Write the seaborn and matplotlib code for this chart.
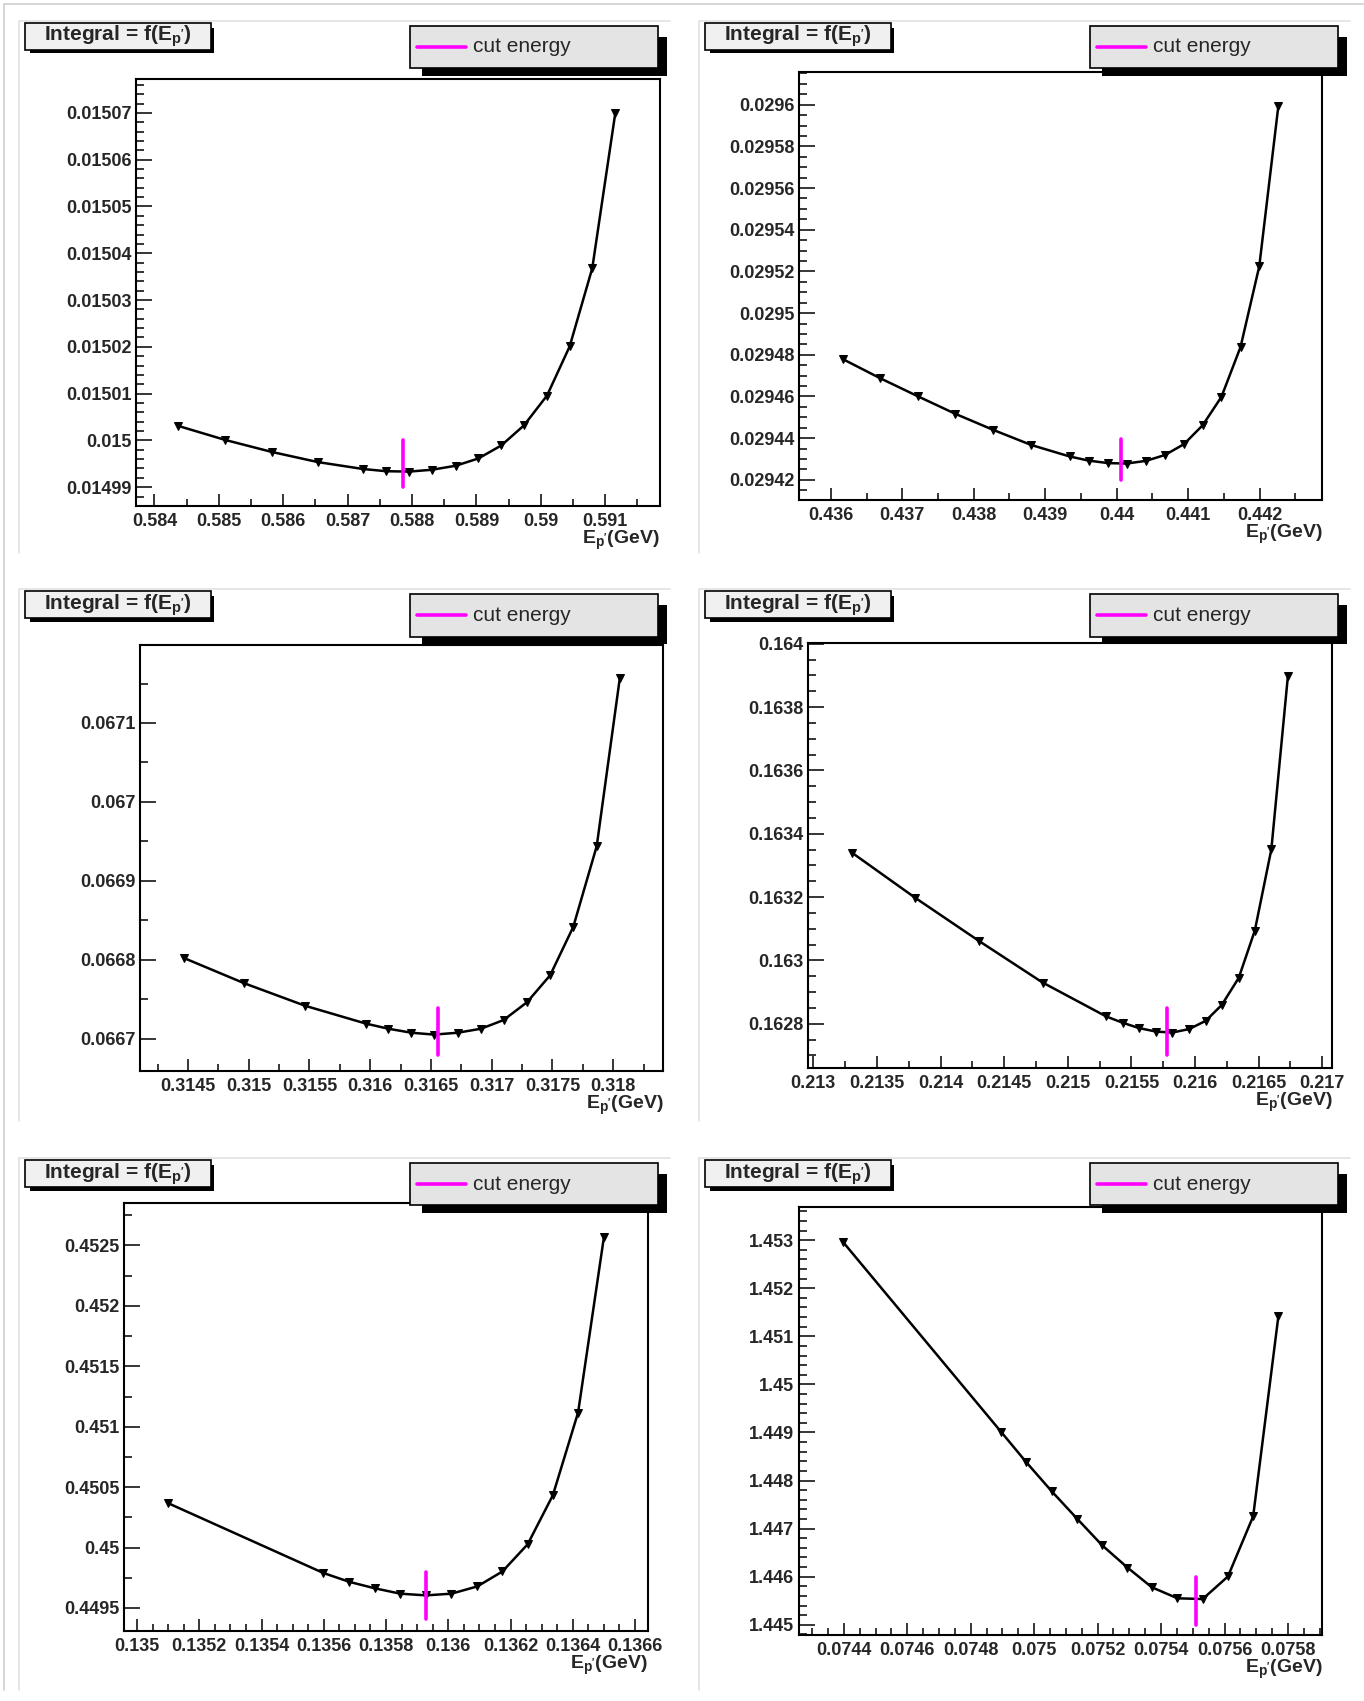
import matplotlib
matplotlib.use("Agg")
import matplotlib.pyplot as plt
import matplotlib.ticker as mtick
from matplotlib.patches import Rectangle
from matplotlib.lines import Line2D
import pandas as pd
import seaborn as sns

# ---- data: integral vs E_p' (GeV) ----
ep_1 = [0.584371, 0.585101, 0.585823, 0.586539, 0.587241, 0.587599, 0.587957, 0.588308,
        0.588679, 0.589030, 0.589388, 0.589739, 0.590097, 0.590448, 0.590799, 0.591157]
int_1 = [0.0150031, 0.0150001, 0.01499754, 0.01499537, 0.01499389, 0.01499342, 0.01499334, 0.01499373,
         0.01499459, 0.01499614, 0.01499894, 0.01500322, 0.0150096, 0.01502009, 0.01503681, 0.01507]

ep_2 = [0.436170, 0.436688, 0.437217, 0.437740, 0.438276, 0.438805, 0.439341, 0.439609, 0.439882,
        0.440138, 0.440412, 0.440674, 0.440941, 0.441203, 0.441465, 0.441732, 0.441994, 0.442262]
int_2 = [0.0294779, 0.0294688, 0.0294601, 0.0294517, 0.0294439, 0.0294367, 0.0294312, 0.0294292, 0.0294280,
         0.0294278, 0.0294291, 0.0294319, 0.0294371, 0.0294462, 0.0294598, 0.0294837, 0.0295224, 0.0295996]

ep_3 = [0.314471, 0.314965, 0.315466, 0.315967, 0.316150, 0.316340, 0.316526, 0.316719,
        0.316912, 0.317098, 0.317291, 0.317481, 0.317671, 0.317864, 0.318054]
int_3 = [0.0668022, 0.0667704, 0.0667419, 0.0667193, 0.0667129, 0.0667078, 0.0667055, 0.0667078,
         0.0667129, 0.0667239, 0.0667465, 0.0667806, 0.0668418, 0.066944, 0.0671566]

ep_4 = [0.213304, 0.213803, 0.214303, 0.214802, 0.215301, 0.215431, 0.215561, 0.215694,
        0.215821, 0.215954, 0.216084, 0.216210, 0.216344, 0.216470, 0.216600, 0.216730]
int_4 = [0.16334, 0.163197, 0.163061, 0.16293, 0.162823, 0.162803, 0.162786, 0.162775,
         0.162772, 0.162783, 0.162809, 0.162859, 0.162945, 0.163094, 0.163351, 0.163898]

ep_5 = [0.135099, 0.135598, 0.135682, 0.135763, 0.135846, 0.135928, 0.136010,
        0.136093, 0.136174, 0.136255, 0.136336, 0.136417, 0.136500]
int_5 = [0.450368, 0.44979, 0.449716, 0.449663, 0.449618, 0.449604, 0.449618,
         0.449678, 0.449802, 0.450027, 0.450433, 0.451117, 0.452568]

ep_6 = [0.0743973, 0.0748950, 0.0749745, 0.0750554, 0.0751349, 0.0752145, 0.0752940,
        0.0753708, 0.0754517, 0.0755312, 0.0756108, 0.0756903, 0.0757698]
int_6 = [1.452963, 1.449019, 1.448386, 1.447776, 1.44721, 1.446652, 1.446191,
         1.445781, 1.445551, 1.445536, 1.446005, 1.447255, 1.451415]

cut_x = [0.587862, 0.440065, 0.316561, 0.21578, 0.135929, 0.0755091]
cut_lo = [0.01499, 0.02942, 0.0666802, 0.1627, 0.449405, 1.445]
cut_hi = [0.015, 0.0294395, 0.0667391, 0.162849, 0.449796, 1.44599]

title_txt = r"Integral = f(E$_{\mathrm{p'}}$)"
xlabel_txt = r"E$_{\mathrm{p'}}$(GeV)"
legend_txt = "cut energy"

# ---- axis settings per panel ----
xlims = [(0.58371, 0.591846), (0.43555, 0.442876), (0.314106, 0.318412),
         (0.212959, 0.217079), (0.134958, 0.136642), (0.0742574, 0.0759083)]
ylims = [(0.0149859, 0.0150772), (0.0294104, 0.0296159), (0.0666595, 0.0671985),
         (0.16266, 0.1640034), (0.44931, 0.452855), (1.444792, 1.453692)]
x_major = [0.001, 0.001, 0.0005, 0.0005, 0.0002, 0.0002]
x_minor = [0.0005, 0.0005, 0.00025, 0.00025, 0.00005, 0.00005]
y_major = [0.00001, 0.00002, 0.0001, 0.0002, 0.0005, 0.001]
y_minor = [0.000002, 0.000005, 0.00005, 0.00005, 0.00025, 0.0002]

# pixel boxes (left, top, right, bottom), image coords from top-left
axes_px = [(135.7, 79.2, 659.7, 506.4), (798.6, 71.6, 1322.3, 499.8),
           (140.0, 645.2, 663.3, 1070.9), (808.1, 642.7, 1332.3, 1068.0),
           (124.0, 1202.6, 648.1, 1630.9), (798.6, 1206.9, 1322.3, 1634.8)]
col_off = [0, 680]
row_off = [0, 568.3, 1137.0]
canvas_top = [20.7, 589.0, 1157.5]
canvas_bot = [553.0, 1121.0, 1690.0]
canvas_left = [19.3, 699.3]
canvas_right = [670.0, 1350.0]

W, H = 1364, 1701

sns.set_style("white")
plt.rcParams["font.family"] = ["Liberation Sans", "DejaVu Sans"]
plt.rcParams["font.weight"] = "bold"
plt.rcParams["mathtext.fontset"] = "custom"
plt.rcParams["mathtext.rm"] = "Liberation Sans:bold"
plt.rcParams["mathtext.it"] = "Liberation Sans:bold"
plt.rcParams["mathtext.bf"] = "Liberation Sans:bold"

fig = plt.figure(figsize=(W / 100, H / 100), dpi=100, facecolor="white")


def fx(x):
    return x / W


def fy(y):
    return 1 - y / H


def add_rect(x0, y0, x1, y1, **kw):
    fig.add_artist(Rectangle((fx(x0), fy(y1)), fx(x1) - fx(x0), fy(y0) - fy(y1),
                             transform=fig.transFigure, **kw))


def add_line(x0, y0, x1, y1, **kw):
    fig.add_artist(Line2D([fx(x0), fx(x1)], [fy(y0), fy(y1)], transform=fig.transFigure, **kw))


def tick_fmt(v, pos):
    return f"{v:.7f}".rstrip("0").rstrip(".")


# outer screenshot border
add_line(4, 4, W, 4, color="#cfcfcf", lw=1.2)
add_line(4, 4, 4, 1690, color="#cfcfcf", lw=1.2)

series = [(ep_1, int_1), (ep_2, int_2), (ep_3, int_3), (ep_4, int_4), (ep_5, int_5), (ep_6, int_6)]

for i, (ep, integ) in enumerate(series):
    r, c = divmod(i, 2)
    # canvas border (left + top)
    add_line(canvas_left[c], canvas_top[r], canvas_right[c], canvas_top[r], color="#e2e2e2", lw=1.2)
    add_line(canvas_left[c], canvas_top[r], canvas_left[c], canvas_bot[r], color="#e2e2e2", lw=1.2)

    l, t, rr, b = axes_px[i]
    ax = fig.add_axes([fx(l), fy(b), fx(rr) - fx(l), fy(t) - fy(b)])
    ax.set_facecolor("white")

    df = pd.DataFrame({"ep": ep, "integral": integ})
    sns.lineplot(data=df, x="ep", y="integral", ax=ax, color="black", lw=1.8,
                 marker="v", markersize=6, markeredgecolor="black", markerfacecolor="black",
                 sort=False, estimator=None, zorder=3)
    ax.plot([cut_x[i], cut_x[i]], [cut_lo[i], cut_hi[i]], color="#ff00ff", lw=2.6, zorder=4)

    ax.set_xlim(*xlims[i])
    ax.set_ylim(*ylims[i])
    ax.set_xlabel("")
    ax.set_ylabel("")
    ax.xaxis.set_major_locator(mtick.MultipleLocator(x_major[i]))
    ax.xaxis.set_minor_locator(mtick.MultipleLocator(x_minor[i]))
    ax.yaxis.set_major_locator(mtick.MultipleLocator(y_major[i]))
    ax.yaxis.set_minor_locator(mtick.MultipleLocator(y_minor[i]))
    ax.xaxis.set_major_formatter(mtick.FuncFormatter(tick_fmt))
    ax.yaxis.set_major_formatter(mtick.FuncFormatter(tick_fmt))

    for side in ("left", "bottom", "top", "right"):
        ax.spines[side].set_visible(True)
        ax.spines[side].set_color("black")
        ax.spines[side].set_linewidth(1.5)

    ax.tick_params(axis="y", which="major", direction="in", length=11.5, width=1.3,
                   left=True, right=False, labelsize=13, pad=3)
    ax.tick_params(axis="y", which="minor", direction="in", length=5.8, width=1.3,
                   left=True, right=False)
    ax.tick_params(axis="x", which="major", direction="in", length=8.6, width=1.3,
                   bottom=True, top=False, labelsize=13, pad=5)
    ax.tick_params(axis="x", which="minor", direction="in", length=5.0, width=1.3,
                   bottom=True, top=False)

    # x axis title, right aligned under the axis
    fig.text(fx(rr), fy(b + 38), xlabel_txt, ha="right", va="baseline", fontsize=14,
             fontweight="bold")

    # title box with shadow
    tx0, ty0 = 25 + col_off[c], 22.7 + row_off[r]
    tx1, ty1 = 210.7 + col_off[c], 50.0 + row_off[r]
    add_rect(tx0 + 5, ty0 + 5, tx1 + 3.5, ty1 + 3.5, facecolor="black", edgecolor="none", zorder=5)
    add_rect(tx0, ty0, tx1, ty1, facecolor="#f0f0f0", edgecolor="black", lw=1.2, zorder=6)
    fig.text(fx((tx0 + tx1) / 2), fy(ty0 + 18.5), title_txt, ha="center", va="baseline",
             fontsize=15, fontweight="bold", zorder=7)

    # legend box with shadow
    lx0, ly0 = 410 + col_off[c], 25.7 + row_off[r]
    lx1, ly1 = 658.3 + col_off[c], 68.3 + row_off[r]
    add_rect(lx0 + 11.5, ly0 + 11, lx1 + 8.3, ly1 + 7.7, facecolor="black", edgecolor="none", zorder=5)
    add_rect(lx0, ly0, lx1, ly1, facecolor="#e4e4e4", edgecolor="black", lw=1.2, zorder=6)
    ym = (ly0 + ly1) / 2
    add_line(lx0 + 6.7, ym, lx0 + 55.7, ym, color="#ff00ff", lw=2.6, zorder=7)
    fig.text(fx(lx0 + 62.7), fy(ym), legend_txt, ha="left", va="center", fontsize=15,
             fontweight="normal", zorder=7)

fig.savefig("out.png", dpi=100, facecolor="white")
